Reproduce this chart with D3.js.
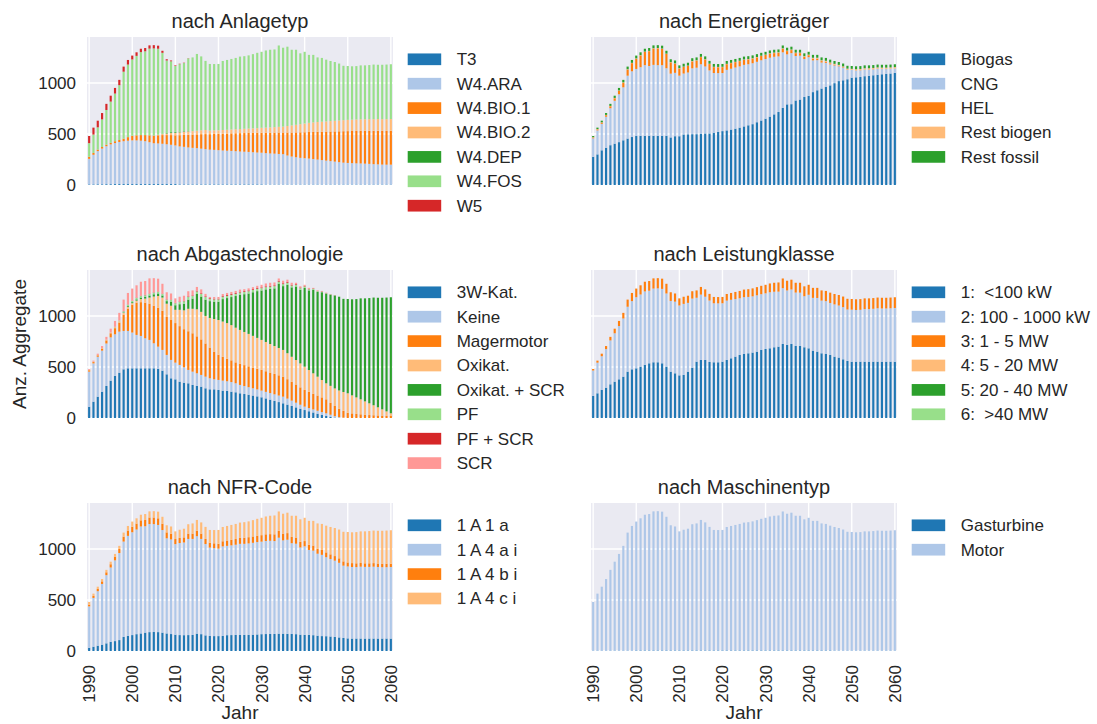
<!DOCTYPE html>
<html>
<head>
<meta charset="utf-8">
<script src="https://cdn.jsdelivr.net/npm/d3@7"></script>
<style>
  body { margin: 0; background: #fff; }
</style>
</head>
<body>
<div id="chart"></div>
<script>
// Categories and ticks
const years = d3.range(1990, 2061);
const xTickYears = [1990, 2000, 2010, 2020, 2030, 2040, 2050, 2060];
const yTickValues = [0, 500, 1000];

// tab20 colours, used in order inside every panel
const tab20 = ["#1f77b4", "#aec7e8", "#ff7f0e", "#ffbb78", "#2ca02c", "#98df8a", "#d62728", "#ff9896"];

// ---------------------- nach Anlagetyp ----------------------
const anlLabels = ["T3", "W4.ARA", "W4.BIO.1", "W4.BIO.2", "W4.DEP", "W4.FOS", "W5"];
const anlT3 = [
  6, 6, 7, 7, 8, 8, 9, 9, 9, 9,
  9, 9, 9, 9, 9, 9, 9, 9, 9, 9,
  9, 6, 6, 6, 6, 6, 6, 6, 6, 6,
  6, 6, 6, 6, 6, 6, 6, 6, 6, 6,
  6, 4, 4, 4, 4, 4, 4, 4, 4, 4,
  4, 4, 4, 4, 4, 4, 4, 4, 4, 4,
  4, 4, 4, 4, 4, 4, 4, 4, 4, 4,
  4];
const anlARA = [
  250, 290, 325, 350, 372, 390, 402, 412, 420, 425,
  428, 428, 425, 420, 410, 400, 398, 395, 390, 385,
  378, 372, 368, 362, 358, 355, 350, 345, 340, 338,
  335, 332, 330, 328, 325, 322, 320, 318, 315, 312,
  310, 308, 305, 303, 300, 298, 285, 275, 268, 262,
  258, 255, 250, 245, 240, 235, 230, 225, 220, 215,
  212, 210, 208, 207, 205, 203, 200, 198, 196, 195,
  195];
const anlBIO1 = [
  20, 18, 15, 15, 15, 15, 18, 20, 25, 35,
  45, 50, 55, 60, 68, 75, 80, 85, 90, 95,
  100, 110, 118, 125, 130, 135, 142, 148, 152, 157,
  160, 165, 168, 172, 176, 180, 183, 186, 190, 193,
  196, 200, 203, 206, 210, 212, 225, 235, 243, 250,
  255, 260, 266, 272, 278, 284, 290, 296, 302, 308,
  312, 315, 318, 320, 322, 324, 327, 329, 330, 331,
  332];
const anlBIO2 = [
  0, 0, 0, 0, 0, 0, 0, 0, 0, 0,
  0, 0, 0, 0, 0, 0, 5, 10, 15, 20,
  25, 28, 30, 32, 34, 36, 38, 40, 35, 35,
  35, 36, 37, 38, 39, 40, 42, 43, 44, 46,
  48, 50, 52, 54, 56, 58, 64, 70, 75, 80,
  85, 90, 93, 96, 98, 100, 102, 104, 106, 108,
  110, 111, 112, 113, 113, 114, 114, 115, 115, 115,
  115];
const anlDEP = [
  0, 0, 0, 0, 0, 0, 0, 0, 0, 0,
  0, 0, 0, 0, 0, 0, 0, 3, 5, 8,
  8, 6, 5, 3, 0, 0, 0, 0, 0, 0,
  0, 0, 0, 0, 0, 0, 0, 0, 0, 0,
  0, 0, 0, 0, 0, 0, 0, 0, 0, 0,
  0, 0, 0, 0, 0, 0, 0, 0, 0, 0,
  0, 0, 0, 0, 0, 0, 0, 0, 0, 0,
  0];
const anlFOS = [
  134, 180, 218, 271, 340, 404, 467, 537, 656, 711,
  748, 778, 813, 821, 849, 854, 843, 793, 711, 695,
  646, 662, 668, 712, 722, 752, 724, 677, 653, 649,
  650, 676, 684, 691, 699, 710, 711, 717, 727, 738,
  745, 756, 761, 761, 797, 773, 777, 741, 735, 694,
  703, 666, 662, 633, 625, 605, 589, 576, 558, 533,
  528, 523, 523, 528, 528, 530, 535, 532, 533, 535,
  537];
const anlW5 = [
  70, 68, 65, 62, 60, 58, 55, 52, 50, 45,
  38, 35, 33, 32, 32, 32, 30, 20, 12, 8,
  6, 4, 3, 2, 0, 0, 0, 0, 0, 0,
  0, 0, 0, 0, 0, 0, 0, 0, 0, 0,
  0, 0, 0, 0, 0, 0, 0, 0, 0, 0,
  0, 0, 0, 0, 0, 0, 0, 0, 0, 0,
  0, 0, 0, 0, 0, 0, 0, 0, 0, 0,
  0];

// ---------------------- nach Energieträger ----------------------
const engLabels = ["Biogas", "CNG", "HEL", "Rest biogen", "Rest fossil"];
const engBiogas = [
  277, 300, 340, 365, 390, 405, 420, 438, 455, 470,
  480, 482, 482, 483, 482, 480, 480, 482, 466, 478,
  478, 495, 497, 498, 498, 502, 505, 505, 512, 520,
  528, 535, 543, 552, 562, 574, 585, 596, 615, 632,
  650, 670, 692, 715, 755, 790, 792, 828, 837, 862,
  873, 910, 928, 945, 960, 976, 998, 1018, 1026, 1036,
  1052, 1055, 1058, 1066, 1070, 1075, 1080, 1085, 1088, 1092,
  1098];
const engCNG = [
  180, 235, 259, 304, 362, 420, 469, 519, 616, 644,
  657, 672, 692, 683, 695, 694, 694, 662, 625, 621,
  593, 597, 605, 645, 651, 681, 656, 618, 585, 576,
  569, 593, 596, 599, 600, 603, 598, 597, 592, 590,
  584, 577, 564, 545, 545, 490, 500, 436, 430, 372,
  379, 311, 295, 255, 237, 206, 173, 145, 123, 92,
  75, 66, 65, 64, 60, 58, 58, 51, 48, 46,
  43];
const engHEL = [
  8, 10, 12, 15, 20, 25, 35, 45, 60, 80,
  100, 115, 130, 145, 160, 165, 160, 140, 110, 90,
  70, 65, 65, 68, 70, 70, 68, 62, 58, 58,
  58, 56, 55, 53, 52, 50, 48, 46, 44, 42,
  40, 38, 36, 35, 34, 32, 30, 28, 25, 23,
  20, 18, 16, 14, 12, 10, 8, 6, 5, 4,
  3, 2, 2, 2, 2, 2, 2, 2, 2, 2,
  2];
const engRestBio = [
  3, 3, 3, 3, 3, 3, 3, 3, 3, 3,
  3, 3, 3, 3, 3, 3, 3, 3, 3, 3,
  3, 3, 3, 3, 3, 3, 3, 3, 3, 3,
  3, 3, 3, 3, 3, 3, 3, 3, 3, 3,
  3, 5, 5, 5, 5, 5, 5, 5, 5, 5,
  5, 8, 8, 8, 8, 8, 8, 8, 8, 8,
  8, 12, 12, 12, 12, 12, 12, 12, 12, 12,
  12];
const engRestFos = [
  12, 14, 16, 18, 20, 22, 24, 25, 26, 28,
  28, 28, 28, 28, 28, 28, 28, 28, 28, 28,
  28, 28, 28, 28, 28, 28, 28, 28, 28, 28,
  28, 28, 28, 28, 28, 28, 28, 28, 28, 28,
  28, 28, 28, 28, 28, 28, 28, 28, 28, 28,
  28, 28, 28, 28, 28, 28, 28, 28, 28, 28,
  28, 28, 28, 28, 28, 28, 28, 28, 28, 28,
  28];

// ---------------------- nach Abgastechnologie ----------------------
const abgLabels = ["3W-Kat.", "Keine", "Magermotor", "Oxikat.", "Oxikat. + SCR", "PF", "PF + SCR", "SCR"];
const abg3W = [
  111, 160, 209, 258, 314, 366, 412, 444, 477, 487,
  487, 487, 487, 487, 487, 487, 480, 464, 428, 389,
  379, 356, 346, 340, 324, 314, 307, 291, 281, 281,
  275, 268, 265, 258, 252, 242, 235, 228, 220, 212,
  203, 192, 180, 168, 156, 144, 131, 118, 104, 91,
  78, 66, 54, 42, 31, 20, 10, 4, 1, 0,
  0, 0, 0, 0, 0, 0, 0, 0, 0, 0,
  0];
const abgKeine = [
  343, 375, 391, 402, 416, 424, 408, 402, 376, 366,
  350, 327, 317, 294, 278, 245, 219, 203, 190, 180,
  163, 164, 151, 131, 130, 124, 115, 114, 108, 98,
  98, 98, 95, 94, 88, 82, 78, 74, 71, 68,
  65, 64, 64, 64, 64, 65, 59, 52, 46, 39,
  33, 31, 30, 29, 27, 26, 22, 14, 7, 3,
  0, 0, 0, 0, 0, 0, 0, 0, 0, 0,
  0];
const abgMager = [
  14, 13, 14, 20, 30, 40, 60, 89, 157, 217,
  273, 316, 331, 349, 355, 368, 381, 383, 372, 391,
  388, 380, 373, 379, 376, 362, 348, 325, 301, 271,
  247, 234, 220, 213, 205, 206, 205, 204, 203, 202,
  203, 202, 201, 200, 198, 196, 190, 185, 178, 170,
  164, 159, 154, 149, 144, 137, 118, 100, 82, 67,
  52, 45, 40, 36, 32, 29, 27, 25, 23, 21,
  20];
const abgOxi = [
  4, 4, 4, 6, 8, 8, 10, 13, 20, 20,
  15, 20, 30, 40, 60, 90, 115, 130, 130, 140,
  130, 160, 185, 220, 240, 265, 270, 270, 290, 320,
  340, 345, 350, 345, 340, 333, 325, 318, 311, 303,
  294, 287, 280, 273, 268, 262, 255, 245, 240, 235,
  228, 214, 200, 185, 170, 157, 165, 172, 180, 185,
  190, 177, 162, 147, 131, 115, 98, 80, 62, 44,
  26];
const abgOxiSCR = [
  0, 0, 0, 0, 0, 0, 0, 0, 5, 8,
  10, 12, 15, 18, 20, 22, 25, 20, 25, 40,
  45, 55, 65, 90, 100, 150, 150, 160, 165, 170,
  180, 220, 245, 275, 310, 345, 370, 396, 427, 458,
  485, 515, 540, 565, 630, 625, 670, 680, 720, 722,
  772, 780, 818, 830, 860, 878, 893, 910, 918, 912,
  924, 941, 963, 989, 1009, 1031, 1055, 1073, 1093, 1115,
  1137];
const abgPF = [
  0, 0, 0, 0, 0, 0, 3, 6, 10, 12,
  12, 14, 15, 15, 16, 16, 16, 15, 15, 18,
  20, 22, 24, 25, 25, 25, 25, 25, 22, 22,
  22, 22, 22, 22, 22, 22, 22, 22, 22, 22,
  22, 22, 22, 22, 20, 20, 20, 18, 16, 15,
  14, 12, 10, 8, 6, 5, 4, 3, 2, 1,
  0, 0, 0, 0, 0, 0, 0, 0, 0, 0,
  0];
const abgPFSCR = [
  0, 0, 0, 0, 0, 0, 0, 0, 2, 2,
  3, 3, 3, 3, 3, 3, 3, 3, 3, 3,
  3, 4, 4, 6, 6, 7, 7, 7, 7, 7,
  7, 7, 8, 8, 8, 8, 8, 8, 8, 8,
  8, 8, 8, 8, 8, 8, 8, 7, 7, 6,
  6, 5, 4, 3, 3, 2, 1, 1, 0, 0,
  0, 0, 0, 0, 0, 0, 0, 0, 0, 0,
  0];
const abgSCR = [
  8, 10, 12, 19, 27, 37, 58, 76, 113, 113,
  118, 121, 137, 136, 149, 139, 126, 97, 69, 59,
  44, 47, 50, 51, 49, 37, 38, 24, 12, 16,
  17, 21, 20, 20, 20, 20, 19, 20, 20, 22,
  25, 28, 30, 28, 23, 25, 22, 20, 14, 12,
  10, 8, 5, 4, 4, 3, 2, 1, 0, 0,
  0, 0, 0, 0, 0, 0, 0, 0, 0, 0,
  0];

// ---------------------- nach Leistungklasse ----------------------
const lstLabels = ["1:  <100 kW", "2: 100 - 1000 kW", "3: 1 - 5 MW", "4: 5 - 20 MW", "5: 20 - 40 MW", "6:  >40 MW"];
const lst1 = [
  216, 242, 275, 297, 330, 356, 379, 405, 454, 477,
  487, 503, 520, 536, 546, 546, 536, 503, 454, 438,
  418, 422, 454, 493, 552, 569, 569, 549, 546, 546,
  552, 569, 585, 601, 618, 627, 634, 641, 650, 667,
  676, 683, 693, 699, 725, 716, 725, 706, 706, 693,
  683, 660, 650, 634, 627, 618, 601, 592, 575, 559,
  552, 552, 552, 552, 552, 552, 552, 552, 552, 552,
  552];
const lst2 = [
  249, 300, 330, 378, 430, 474, 522, 570, 636, 668,
  696, 707, 720, 711, 722, 724, 729, 717, 693, 702,
  684, 696, 674, 677, 626, 640, 619, 602, 578, 577,
  572, 581, 573, 564, 555, 557, 552, 551, 552, 546,
  545, 549, 544, 539, 547, 534, 534, 523, 522, 500,
  524, 517, 526, 516, 518, 509, 512, 510, 511, 504,
  509, 506, 508, 515, 515, 518, 523, 521, 521, 523,
  526];
const lst3 = [
  15, 20, 25, 30, 35, 45, 50, 55, 70, 80,
  85, 90, 95, 95, 100, 100, 100, 95, 85, 80,
  70, 70, 70, 72, 72, 75, 72, 65, 62, 62,
  62, 65, 67, 70, 72, 74, 76, 78, 80, 82,
  84, 86, 88, 90, 95, 95, 96, 96, 97, 97,
  98, 98, 99, 100, 100, 101, 102, 103, 104, 105,
  105, 105, 105, 105, 105, 105, 105, 105, 105, 105,
  105];
const lst4 = [
  0, 0, 0, 0, 0, 0, 0, 0, 0, 0, 0, 0, 0, 0, 0, 0, 0, 0, 0, 0, 0, 0, 0, 0,
  0, 0, 0, 0, 0, 0, 0, 0, 0, 0, 0, 0, 0, 0, 0, 0, 0, 0, 0, 0, 0, 0, 0, 0,
  0, 0, 0, 0, 0, 0, 0, 0, 0, 0, 0, 0, 0, 0, 0, 0, 0, 0, 0, 0, 0, 0, 0];
const lst5 = [
  0, 0, 0, 0, 0, 0, 0, 0, 0, 0, 0, 0, 0, 0, 0, 0, 0, 0, 0, 0, 0, 0, 0, 0,
  0, 0, 0, 0, 0, 0, 0, 0, 0, 0, 0, 0, 0, 0, 0, 0, 0, 0, 0, 0, 0, 0, 0, 0,
  0, 0, 0, 0, 0, 0, 0, 0, 0, 0, 0, 0, 0, 0, 0, 0, 0, 0, 0, 0, 0, 0, 0];
const lst6 = [
  0, 0, 0, 0, 0, 0, 0, 0, 0, 0, 0, 0, 0, 0, 0, 0, 0, 0, 0, 0, 0, 0, 0, 0,
  0, 0, 0, 0, 0, 0, 0, 0, 0, 0, 0, 0, 0, 0, 0, 0, 0, 0, 0, 0, 0, 0, 0, 0,
  0, 0, 0, 0, 0, 0, 0, 0, 0, 0, 0, 0, 0, 0, 0, 0, 0, 0, 0, 0, 0, 0, 0];

// ---------------------- nach NFR-Code ----------------------
const nfrLabels = ["1 A 1 a", "1 A 4 a i", "1 A 4 b i", "1 A 4 c i"];
const nfr1A1a = [
  32, 42, 52, 62, 75, 90, 97, 107, 138, 148,
  156, 165, 172, 180, 185, 186, 185, 180, 172, 166,
  160, 156, 155, 156, 157, 170, 165, 153, 147, 146,
  146, 148, 155, 156, 157, 157, 158, 158, 160, 162,
  165, 166, 167, 167, 170, 170, 168, 167, 165, 160,
  158, 157, 155, 150, 146, 145, 142, 138, 133, 128,
  124, 122, 122, 122, 122, 122, 122, 122, 122, 122,
  122];
const nfr1A4ai = [
  405, 478, 534, 595, 668, 728, 791, 853, 934, 980,
  1007, 1025, 1048, 1042, 1059, 1057, 1050, 1005, 932, 927,
  887, 902, 908, 942, 941, 955, 933, 895, 866, 861,
  857, 877, 875, 879, 884, 893, 892, 896, 900, 905,
  906, 912, 913, 910, 940, 914, 922, 889, 886, 854,
  867, 833, 828, 803, 796, 774, 759, 747, 731, 708,
  704, 701, 700, 704, 702, 702, 704, 701, 699, 699,
  701];
const nfr1A4bi = [
  18, 20, 22, 25, 28, 32, 36, 40, 48, 52,
  55, 58, 60, 62, 64, 65, 65, 62, 58, 55,
  50, 50, 50, 52, 52, 54, 52, 50, 48, 48,
  48, 50, 52, 54, 56, 58, 60, 61, 62, 63,
  64, 65, 65, 66, 67, 66, 65, 62, 60, 56,
  52, 50, 50, 49, 48, 47, 46, 45, 44, 42,
  40, 38, 37, 36, 35, 35, 35, 34, 34, 34,
  33];
const nfr1A4ci = [
  25, 22, 22, 23, 24, 25, 27, 30, 40, 45,
  50, 52, 55, 58, 60, 62, 65, 68, 70, 72,
  75, 80, 85, 92, 100, 105, 110, 118, 125, 130,
  135, 140, 143, 146, 148, 150, 152, 155, 160, 165,
  170, 175, 180, 185, 190, 195, 200, 207, 214, 220,
  228, 235, 242, 248, 255, 262, 268, 275, 282, 290,
  298, 302, 306, 310, 313, 316, 319, 321, 323, 325,
  327];

// ---------------------- nach Maschinentyp ----------------------
const masLabels = ["Gasturbine", "Motor"];
const masGasturbine = [
  3, 3, 3, 3, 3, 3, 3, 3, 3, 3,
  5, 5, 5, 5, 5, 5, 5, 5, 5, 5,
  5, 5, 5, 5, 5, 5, 5, 5, 5, 5,
  5, 5, 5, 5, 5, 5, 5, 5, 5, 5,
  5, 5, 5, 5, 5, 5, 5, 5, 5, 5,
  5, 5, 5, 5, 5, 5, 3, 3, 3, 3,
  3, 3, 3, 3, 3, 3, 3, 3, 3, 3,
  3];
const masMotor = [
  477, 559, 627, 702, 792, 872, 948, 1027, 1157, 1222,
  1263, 1295, 1330, 1337, 1363, 1365, 1360, 1310, 1227, 1215,
  1167, 1183, 1193, 1237, 1245, 1279, 1255, 1211, 1181, 1180,
  1181, 1210, 1220, 1230, 1240, 1253, 1257, 1265, 1277, 1290,
  1300, 1313, 1320, 1323, 1362, 1340, 1350, 1320, 1320, 1285,
  1300, 1270, 1270, 1245, 1240, 1223, 1212, 1202, 1187, 1165,
  1163, 1160, 1162, 1169, 1169, 1172, 1177, 1175, 1175, 1177,
  1180];

// Panels: column 0 = left, 1 = right
const panels = [
  { title: "nach Anlagetyp", col: 0, row: 0, labels: anlLabels,
    series: [anlT3, anlARA, anlBIO1, anlBIO2, anlDEP, anlFOS, anlW5] },
  { title: "nach Energieträger", col: 1, row: 0, labels: engLabels,
    series: [engBiogas, engCNG, engHEL, engRestBio, engRestFos] },
  { title: "nach Abgastechnologie", col: 0, row: 1, labels: abgLabels,
    series: [abg3W, abgKeine, abgMager, abgOxi, abgOxiSCR, abgPF, abgPFSCR, abgSCR] },
  { title: "nach Leistungklasse", col: 1, row: 1, labels: lstLabels,
    series: [lst1, lst2, lst3, lst4, lst5, lst6] },
  { title: "nach NFR-Code", col: 0, row: 2, labels: nfrLabels,
    series: [nfr1A1a, nfr1A4ai, nfr1A4bi, nfr1A4ci] },
  { title: "nach Maschinentyp", col: 1, row: 2, labels: masLabels,
    series: [masGasturbine, masMotor] }
];

// Set the dimensions of the grid of panels
const chart = {
  colX: [87, 591],
  rowY: [37, 270, 503],
  width: 306,
  height: 148,
  yMax: 1450
};
const fontStack = "'Liberation Sans', Arial, Helvetica, sans-serif";
const textColor = "#262626";

const svg = d3.select("#chart")
  .append("svg")
  .attr("width", 1097)
  .attr("height", 724)
  .attr("font-family", fontStack);

svg.append("rect")
  .attr("width", 1097)
  .attr("height", 724)
  .attr("fill", "white");

// Shared scales (every panel uses the same ones)
const x = d3.scaleBand()
  .domain(years)
  .range([0, chart.width])
  .paddingInner(0.5)
  .paddingOuter(0.25);

const y = d3.scaleLinear()
  .domain([0, chart.yMax])
  .range([chart.height, 0]);

panels.forEach(p => {
  const g = svg.append("g")
    .attr("transform", "translate(" + chart.colX[p.col] + "," + chart.rowY[p.row] + ")");

  // Background
  g.append("rect")
    .attr("width", chart.width)
    .attr("height", chart.height)
    .attr("fill", "#eaeaf2");

  // Grid lines
  g.selectAll(".hgrid")
    .data(yTickValues)
    .enter()
    .append("line")
    .attr("class", "hgrid")
    .attr("x1", 0)
    .attr("x2", chart.width)
    .attr("y1", d => y(d))
    .attr("y2", d => y(d))
    .attr("stroke", "white")
    .attr("stroke-width", 1.4);

  g.selectAll(".vgrid")
    .data(xTickYears)
    .enter()
    .append("line")
    .attr("class", "vgrid")
    .attr("x1", d => x(d) + x.bandwidth() / 2)
    .attr("x2", d => x(d) + x.bandwidth() / 2)
    .attr("y1", 0)
    .attr("y2", chart.height)
    .attr("stroke", "white")
    .attr("stroke-width", 1.4);

  // Stack the series
  const rows = years.map((yr, i) => {
    const r = { year: yr };
    p.labels.forEach((k, j) => { r[k] = p.series[j][i]; });
    return r;
  });
  const stacked = d3.stack().keys(p.labels)(rows);

  g.selectAll(".layer")
    .data(stacked)
    .enter()
    .append("g")
    .attr("class", "layer")
    .attr("fill", (d, i) => tab20[i])
    .selectAll("rect")
    .data(d => d)
    .enter()
    .append("rect")
    .attr("x", d => x(d.data.year))
    .attr("y", d => y(d[1]))
    .attr("width", x.bandwidth())
    .attr("height", d => y(d[0]) - y(d[1]));

  // Y tick labels only on the left column
  if (p.col === 0) {
    g.append("g")
      .call(d3.axisLeft(y).tickValues(yTickValues).tickFormat(d3.format("d")).tickSize(0).tickPadding(11))
      .attr("font-size", 17)
      .attr("font-family", fontStack)
      .style("color", textColor)
      .call(a => a.select(".domain").remove());
  }

  // X tick labels only on the bottom row
  if (p.row === 2) {
    g.append("g")
      .attr("transform", "translate(0," + chart.height + ")")
      .call(d3.axisBottom(x).tickValues(xTickYears).tickSize(0))
      .attr("font-size", 17)
      .attr("font-family", fontStack)
      .style("color", textColor)
      .call(a => a.select(".domain").remove())
      .selectAll("text")
      .attr("transform", "rotate(-90)")
      .attr("x", -14)
      .attr("y", 0)
      .attr("dy", "0.35em")
      .style("text-anchor", "end");

    g.append("text")
      .attr("x", chart.width / 2)
      .attr("y", 718.5 - chart.rowY[p.row])
      .attr("text-anchor", "middle")
      .attr("font-size", 19)
      .attr("fill", textColor)
      .text("Jahr");
  }

  // Title
  g.append("text")
    .attr("x", chart.width / 2)
    .attr("y", -9)
    .attr("text-anchor", "middle")
    .attr("font-size", 20)
    .attr("fill", textColor)
    .text(p.title);

  // Legend
  const legend = g.append("g")
    .attr("transform", "translate(" + (chart.width + 14.7) + ",22.3)");

  const item = legend.selectAll(".item")
    .data(p.labels)
    .enter()
    .append("g")
    .attr("class", "item")
    .attr("transform", (d, i) => "translate(0," + (i * 24.4) + ")");

  item.append("rect")
    .attr("x", 0)
    .attr("y", -5.85)
    .attr("width", 33.5)
    .attr("height", 11.7)
    .attr("fill", (d, i) => tab20[i]);

  item.append("text")
    .attr("x", 49)
    .attr("y", 0)
    .attr("dy", "0.35em")
    .attr("font-size", 17)
    .attr("fill", textColor)
    .style("white-space", "pre")
    .text(d => d);
});

// Y label
svg.append("text")
  .attr("transform", "translate(25.5,344) rotate(-90)")
  .attr("text-anchor", "middle")
  .attr("font-size", 19)
  .attr("fill", textColor)
  .text("Anz. Aggregate");
</script>
</body>
</html>
